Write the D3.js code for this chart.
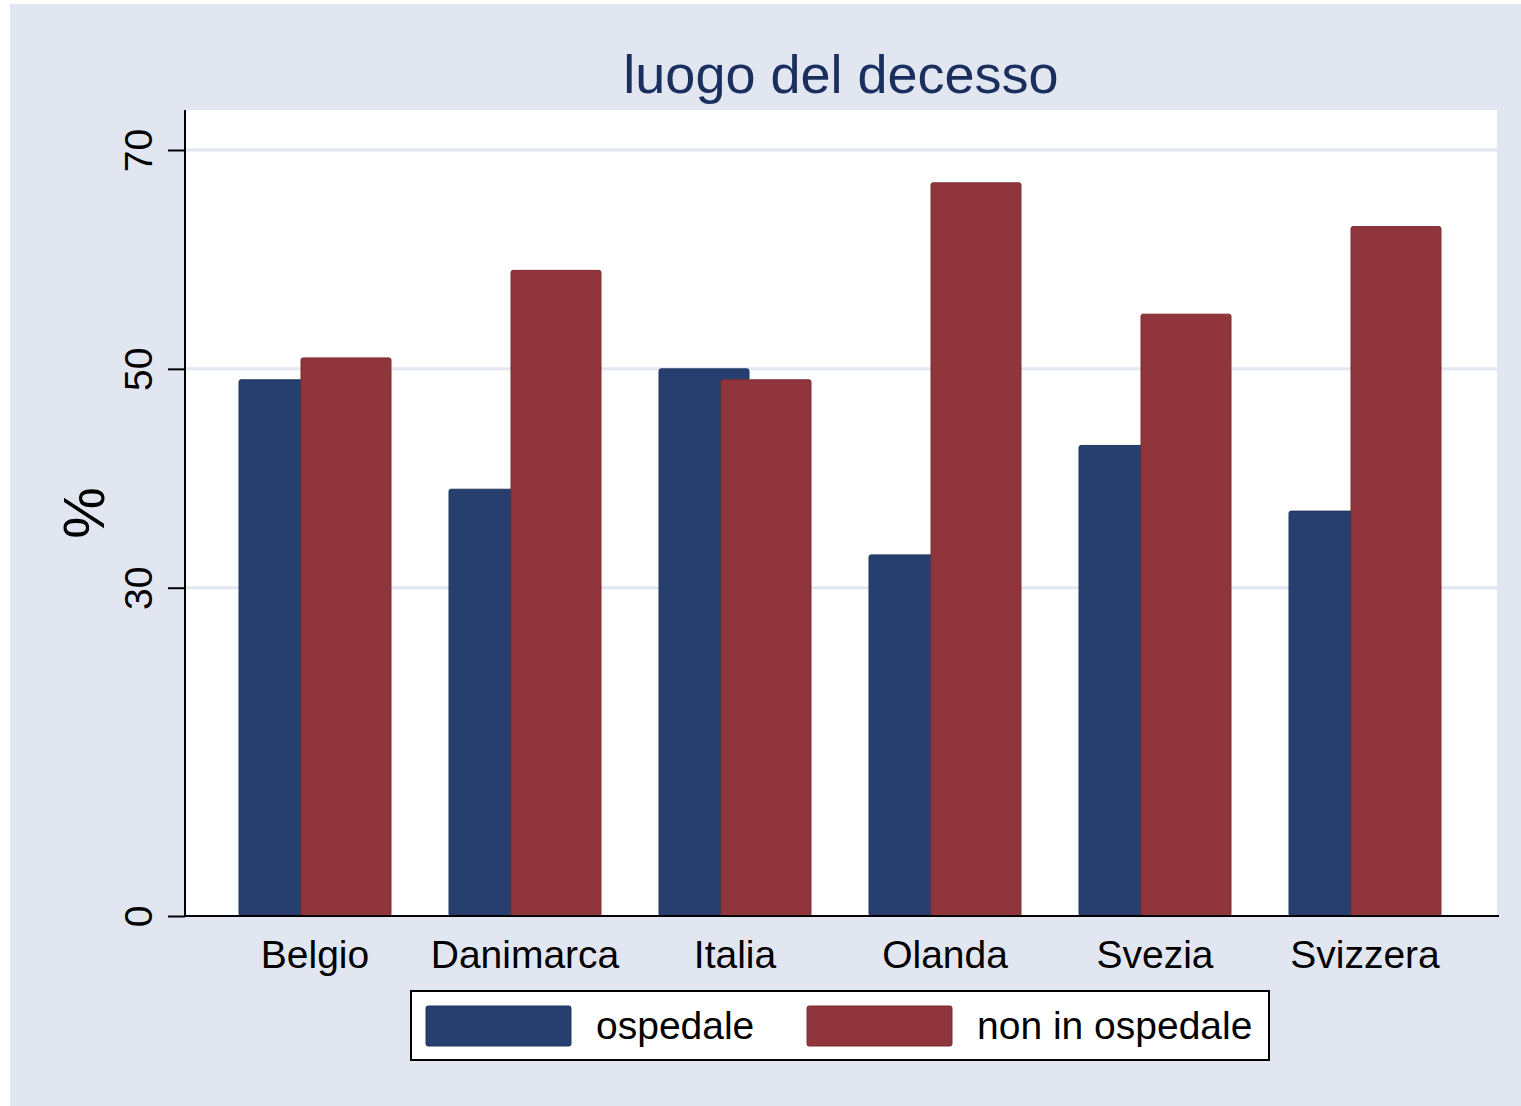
<!DOCTYPE html>
<html>
<head>
  <meta charset="utf-8">
  <title>luogo del decesso</title>
  <script src="https://d3js.org/d3.v7.min.js"></script>
  <style>
    html, body { margin: 0; height: 100%; overflow: hidden; background: #fff; }
    text { font-family: "Liberation Sans", Arial, sans-serif; }
  </style>
</head>
<body>
  <div id="chart"></div>
  <script>
    // data
    const countries = ['Belgio', 'Danimarca', 'Italia', 'Olanda', 'Svezia', 'Svizzera'];
    const ospedale = [49, 39, 50, 33, 43, 37];
    const nonOspedale = [51, 59, 49, 67, 55, 63];
    const yTicks = [0, 30, 50, 70];
    const seriesNames = ['ospedale', 'non in ospedale'];
    const colors = ['#273f6e', '#90353b'];

    const W = 1521, H = 1106;
    const svg = d3.select('#chart').append('svg')
      .attr('width', W).attr('height', H);

    // outer background
    svg.append('rect')
      .attr('x', 10).attr('y', 4)
      .attr('width', W - 10).attr('height', H - 4)
      .attr('fill', '#e1e6f0');

    const plot = { left: 185, right: 1497, top: 110, bottom: 916 };

    // plot region
    svg.append('rect')
      .attr('x', plot.left).attr('y', plot.top)
      .attr('width', plot.right - plot.left).attr('height', plot.bottom - plot.top)
      .attr('fill', '#fff');

    const x = d3.scaleBand().domain(countries).range([210, 1470]).padding(0);
    const y = d3.scaleLinear().domain([0, 70]).range([plot.bottom, 150]);

    // gridlines
    svg.append('g').selectAll('line')
      .data(yTicks.filter(d => d > 0))
      .enter().append('line')
      .attr('x1', plot.left).attr('x2', plot.right)
      .attr('y1', d => y(d)).attr('y2', d => y(d))
      .attr('stroke', '#e1e6f0').attr('stroke-width', 3);

    // bars
    const barW = 90, offset = 31;
    const series = [ospedale, nonOspedale];
    series.forEach((vals, si) => {
      svg.append('g').selectAll('rect')
        .data(countries)
        .enter().append('rect')
        .attr('x', (d, i) => x(d) + x.bandwidth() / 2 + (si === 0 ? -offset : offset) - barW / 2)
        .attr('y', (d, i) => y(vals[i]))
        .attr('width', barW)
        .attr('height', (d, i) => y(0) - y(vals[i]))
        .attr('rx', 2)
        .attr('fill', colors[si])
        .attr('stroke', d3.color(colors[si]).darker(0.4))
        .attr('stroke-width', 1);
    });

    // y axis
    const yAxis = d3.axisLeft(y).tickValues(yTicks).tickSize(17).tickFormat(d3.format('d'));
    const gy = svg.append('g')
      .attr('transform', `translate(${plot.left},0)`)
      .call(yAxis);
    gy.select('.domain').attr('d', `M0,${plot.top}V${plot.bottom}`).attr('stroke', '#000').attr('stroke-width', 2);
    gy.selectAll('.tick line').attr('stroke', '#000').attr('stroke-width', 2);
    gy.selectAll('.tick text')
      .attr('fill', '#000')
      .attr('font-size', 39)
      .attr('x', null)
      .attr('text-anchor', 'middle')
      .attr('transform', 'translate(-33,0) rotate(-90)')
      .attr('y', 0)
      .attr('dy', '0em');

    // x axis
    const xAxis = d3.axisBottom(x).tickSize(0).tickPadding(0);
    const gx = svg.append('g')
      .attr('transform', `translate(0,${plot.bottom})`)
      .call(xAxis);
    gx.select('.domain').attr('d', `M${plot.left},0H${plot.right + 2}`).attr('stroke', '#000').attr('stroke-width', 2);
    gx.selectAll('.tick text')
      .attr('fill', '#000')
      .attr('font-size', 39)
      .attr('y', 52).attr('dy', null);

    // y axis title
    svg.append('text')
      .attr('transform', 'translate(104,513) rotate(-90)')
      .attr('text-anchor', 'middle')
      .attr('font-size', 58)
      .attr('fill', '#000')
      .text('%');

    // title
    svg.append('text')
      .attr('x', 841).attr('y', 93)
      .attr('text-anchor', 'middle')
      .attr('font-size', 54)
      .attr('fill', '#1a2f5e')
      .text('luogo del decesso');

    // legend
    const lg = svg.append('g');
    lg.append('rect')
      .attr('x', 411).attr('y', 991)
      .attr('width', 858).attr('height', 69)
      .attr('fill', '#fff')
      .attr('stroke', '#000').attr('stroke-width', 2);
    const legX = [426, 807];
    seriesNames.forEach((name, i) => {
      lg.append('rect')
        .attr('x', legX[i]).attr('y', 1006)
        .attr('width', 145).attr('height', 40)
        .attr('rx', 2)
        .attr('fill', colors[i])
        .attr('stroke', d3.color(colors[i]).darker(0.4));
      lg.append('text')
        .attr('x', legX[i] + 170).attr('y', 1039)
        .attr('font-size', 39)
        .attr('fill', '#000')
        .text(name);
    });
  </script>
</body>
</html>
